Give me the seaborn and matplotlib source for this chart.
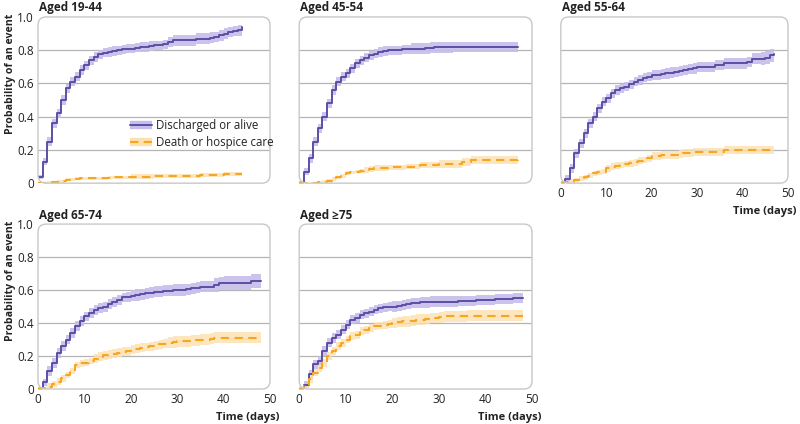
import numpy as np
import pandas as pd
import matplotlib
matplotlib.use("Agg")
import matplotlib.pyplot as plt
import seaborn as sns
from matplotlib.patches import FancyBboxPatch
from matplotlib.lines import Line2D

# ---- data (cumulative probability per day) ----
days_1944 = list(range(45))
disc_1944 = [0.035, 0.13, 0.25, 0.36, 0.42, 0.50, 0.57, 0.61, 0.64, 0.68,
             0.71, 0.74, 0.76, 0.775, 0.785, 0.79, 0.795, 0.80, 0.805, 0.81,
             0.81, 0.815, 0.82, 0.82, 0.825, 0.83, 0.83, 0.835, 0.85, 0.86,
             0.86, 0.86, 0.86, 0.86, 0.87, 0.87, 0.87, 0.875, 0.88, 0.89,
             0.90, 0.91, 0.915, 0.92, 0.94]
disc_ci_1944 = [0.012, 0.022] + [0.028] * 26 + [0.032] * 17
death_1944 = [0, 0, 0.003, 0.005, 0.008, 0.012, 0.02, 0.025, 0.028, 0.03,
              0.03, 0.03, 0.03, 0.03, 0.03, 0.032, 0.035, 0.035, 0.035, 0.035,
              0.04, 0.04, 0.04, 0.04, 0.04, 0.042, 0.042, 0.042, 0.042, 0.042,
              0.045, 0.045, 0.045, 0.045, 0.045, 0.048, 0.048, 0.048, 0.048, 0.048,
              0.055, 0.055, 0.055, 0.055, 0.055]
death_ci_1944 = [0.0, 0.0] + [0.009] * 18 + [0.013] * 25

days_4554 = list(range(48))
disc_4554 = [0.0, 0.07, 0.15, 0.25, 0.33, 0.40, 0.48, 0.56, 0.61, 0.64,
             0.66, 0.69, 0.72, 0.74, 0.755, 0.77, 0.78, 0.79, 0.795, 0.80,
             0.80, 0.80, 0.805, 0.805, 0.81, 0.81, 0.81, 0.812, 0.815, 0.818,
             0.818, 0.818, 0.818, 0.82, 0.82, 0.82, 0.82, 0.82, 0.82, 0.82,
             0.82, 0.82, 0.82, 0.82, 0.82, 0.82, 0.82, 0.82]
disc_ci_4554 = [0.012, 0.022] + [0.028] * 22 + [0.032] * 24
death_4554 = [0, 0, 0, 0, 0.005, 0.01, 0.015, 0.025, 0.035, 0.045,
              0.06, 0.065, 0.07, 0.075, 0.08, 0.085, 0.09, 0.09, 0.09, 0.095,
              0.095, 0.095, 0.095, 0.10, 0.10, 0.10, 0.11, 0.11, 0.11, 0.11,
              0.115, 0.115, 0.115, 0.115, 0.115, 0.125, 0.125, 0.14, 0.14, 0.14,
              0.14, 0.14, 0.14, 0.14, 0.14, 0.14, 0.14, 0.17]
death_ci_4554 = [0.0] * 4 + [0.011] * 10 + [0.017] * 16 + [0.024] * 18

days_5564 = list(range(48))
disc_5564 = [0.0, 0.026, 0.09, 0.18, 0.24, 0.30, 0.36, 0.40, 0.45, 0.49,
             0.51, 0.54, 0.56, 0.57, 0.58, 0.595, 0.61, 0.62, 0.635, 0.64,
             0.65, 0.65, 0.655, 0.66, 0.665, 0.67, 0.675, 0.68, 0.685, 0.69,
             0.70, 0.70, 0.70, 0.70, 0.71, 0.71, 0.72, 0.72, 0.72, 0.72,
             0.72, 0.73, 0.75, 0.75, 0.75, 0.755, 0.77, 0.78]
disc_ci_5564 = [0.012, 0.022] + [0.028] * 18 + [0.031] * 24 + [0.038] * 4
death_5564 = [0.0, 0.005, 0.01, 0.02, 0.03, 0.035, 0.045, 0.06, 0.065, 0.07,
              0.09, 0.10, 0.105, 0.11, 0.115, 0.12, 0.125, 0.135, 0.14, 0.15,
              0.165, 0.165, 0.17, 0.17, 0.17, 0.17, 0.175, 0.18, 0.18, 0.185,
              0.19, 0.19, 0.19, 0.19, 0.19, 0.19, 0.20, 0.20, 0.20, 0.20,
              0.20, 0.20, 0.20, 0.20, 0.20, 0.20, 0.20, 0.20]
death_ci_5564 = [0.0, 0.006] + [0.014] * 8 + [0.02] * 10 + [0.024] * 28

days_6574 = list(range(49))
disc_6574 = [0.0, 0.04, 0.11, 0.16, 0.22, 0.26, 0.30, 0.34, 0.38, 0.41,
             0.44, 0.46, 0.48, 0.49, 0.50, 0.515, 0.53, 0.54, 0.555, 0.56,
             0.565, 0.57, 0.575, 0.58, 0.585, 0.59, 0.59, 0.595, 0.595, 0.60,
             0.60, 0.60, 0.605, 0.61, 0.615, 0.62, 0.62, 0.62, 0.63, 0.64,
             0.645, 0.645, 0.645, 0.645, 0.645, 0.645, 0.655, 0.655, 0.655]
disc_ci_6574 = [0.012, 0.022] + [0.03] * 18 + [0.034] * 18 + [0.042] * 11
death_6574 = [0.0, 0.005, 0.015, 0.03, 0.045, 0.065, 0.085, 0.11, 0.145, 0.155,
              0.16, 0.17, 0.185, 0.195, 0.205, 0.21, 0.215, 0.22, 0.225, 0.23,
              0.24, 0.245, 0.25, 0.255, 0.26, 0.265, 0.27, 0.275, 0.28, 0.285,
              0.29, 0.29, 0.29, 0.295, 0.295, 0.30, 0.30, 0.305, 0.31, 0.31,
              0.31, 0.31, 0.31, 0.31, 0.31, 0.31, 0.31, 0.31, 0.31]
death_ci_6574 = [0.0, 0.006] + [0.02] * 10 + [0.027] * 16 + [0.034] * 21

days_75 = list(range(49))
disc_75 = [0.0, 0.026, 0.09, 0.15, 0.17, 0.23, 0.28, 0.31, 0.33, 0.36,
           0.39, 0.42, 0.43, 0.45, 0.46, 0.47, 0.48, 0.49, 0.495, 0.50,
           0.50, 0.505, 0.51, 0.515, 0.52, 0.52, 0.525, 0.525, 0.53, 0.53,
           0.53, 0.53, 0.53, 0.53, 0.535, 0.535, 0.535, 0.535, 0.54, 0.54,
           0.54, 0.54, 0.545, 0.545, 0.545, 0.545, 0.55, 0.55, 0.55]
disc_ci_75 = [0.012, 0.022] + [0.028] * 18 + [0.031] * 29
death_75 = [0.0, 0.02, 0.06, 0.10, 0.13, 0.16, 0.20, 0.23, 0.26, 0.28,
            0.30, 0.32, 0.33, 0.35, 0.36, 0.37, 0.38, 0.385, 0.39, 0.395,
            0.40, 0.405, 0.41, 0.41, 0.415, 0.42, 0.42, 0.425, 0.43, 0.43,
            0.435, 0.44, 0.44, 0.44, 0.44, 0.44, 0.445, 0.445, 0.445, 0.445,
            0.445, 0.445, 0.445, 0.445, 0.445, 0.445, 0.445, 0.445, 0.445]
death_ci_75 = [0.0, 0.012] + [0.024] * 18 + [0.032] * 29

titles = ["Aged 19-44", "Aged 45-54", "Aged 55-64", "Aged 65-74", "Aged \u226575"]
series_labels = ["Discharged or alive", "Death or hospice care"]
x_ticks = [0, 10, 20, 30, 40, 50]
y_ticks = [0, 0.2, 0.4, 0.6, 0.8, 1.0]
y_tick_labels = ["0", "0.2", "0.4", "0.6", "0.8", "1.0"]

panels = [
    (days_1944, disc_1944, disc_ci_1944, death_1944, death_ci_1944),
    (days_4554, disc_4554, disc_ci_4554, death_4554, death_ci_4554),
    (days_5564, disc_5564, disc_ci_5564, death_5564, death_ci_5564),
    (days_6574, disc_6574, disc_ci_6574, death_6574, death_ci_6574),
    (days_75, disc_75, disc_ci_75, death_75, death_ci_75),
]

# ---- styling ----
sns.set_style("white")
plt.rcParams["font.family"] = ["Open Sans", "DejaVu Sans"]

PURPLE = "#5b4ea5"
PURPLE_BAND = "#c6bdea"
ORANGE = "#f6a623"
ORANGE_BAND = "#fde0ad"
GRID = "#b4b4b4"
FRAME = "#c8c8c8"
TEXT = "#222222"

fig = plt.figure(figsize=(8, 4.24), dpi=100)

# axes boxes in figure fractions (left, bottom, width, height)
positions = [
    (0.0475, 0.568, 0.290, 0.392),
    (0.374, 0.568, 0.291, 0.392),
    (0.701, 0.568, 0.284, 0.392),
    (0.0475, 0.0825, 0.290, 0.389),
    (0.374, 0.0825, 0.291, 0.389),
]
show_xlabels = [False, False, True, True, True]
show_ylabels = [True, False, False, True, False]

for i, (days, disc, disc_ci, death, death_ci) in enumerate(panels):
    ax = fig.add_axes(positions[i])
    d = np.array(days)
    y1, c1 = np.array(disc), np.array(disc_ci)
    y2, c2 = np.array(death), np.array(death_ci)
    w_px = positions[i][2] * 800
    h_px = positions[i][3] * 424

    for yv in y_ticks[1:-1]:
        ax.axhline(yv, color=GRID, lw=0.9, zorder=0)

    ax.fill_between(d, y1 - c1, y1 + c1, step="post", color=PURPLE_BAND,
                    alpha=0.9, lw=0, zorder=1)
    ax.fill_between(d, np.clip(y2 - c2, 0, None), y2 + c2, step="post",
                    color=ORANGE_BAND, alpha=0.8, lw=0, zorder=1)

    df1 = pd.DataFrame({"day": d, "prob": y1})
    df2 = pd.DataFrame({"day": d, "prob": y2})
    sns.lineplot(data=df1, x="day", y="prob", ax=ax, estimator=None,
                 drawstyle="steps-post", color=PURPLE, lw=1.4, zorder=3)
    sns.lineplot(data=df2, x="day", y="prob", ax=ax, estimator=None,
                 drawstyle="steps-post", color=ORANGE, lw=1.5,
                 linestyle=(0, (4, 2.6)), zorder=3)

    ax.set_xlim(0, 50)
    ax.set_ylim(0, 1)
    for s in ax.spines.values():
        s.set_visible(False)

    # rounded frame
    frame = FancyBboxPatch((0, 0), 1, 1, transform=ax.transAxes,
                           boxstyle="round,pad=0,rounding_size=0.035",
                           mutation_aspect=w_px / h_px, fill=False,
                           edgecolor=FRAME, lw=1.0, clip_on=False, zorder=4)
    ax.add_patch(frame)

    ax.set_xticks(x_ticks)
    ax.set_yticks(y_ticks)
    ax.set_yticklabels(y_tick_labels)
    ax.tick_params(axis="x", direction="in", length=4, width=0.9,
                   color=GRID, pad=3, labelsize=8.5, labelcolor=TEXT,
                   labelbottom=show_xlabels[i])
    ax.tick_params(axis="y", length=0, pad=3, labelsize=8.5, labelcolor=TEXT,
                   labelleft=show_ylabels[i])

    ax.set_title(titles[i], loc="left", fontsize=8.5, fontweight="bold",
                 color=TEXT, pad=4, x=0.005)
    if show_ylabels[i]:
        ax.set_ylabel("Probability of an event", loc="top", fontsize=7.6,
                      fontweight="bold", color=TEXT)
        ax.yaxis.set_label_coords(-22 / w_px, 1 + 3 / h_px)
    else:
        ax.set_ylabel("")
    if show_xlabels[i]:
        ax.set_xlabel("Time (days)", loc="right", fontsize=8,
                      fontweight="bold", color=TEXT)
        ax.xaxis.set_label_coords(1 + 9 / w_px, -23 / h_px)
    else:
        ax.set_xlabel("")

    if i == 0:
        handles = [
            (Line2D([], [], color=PURPLE_BAND, lw=6, solid_capstyle="butt"),
             Line2D([], [], color=PURPLE, lw=1.4)),
            (Line2D([], [], color=ORANGE_BAND, lw=6, solid_capstyle="butt"),
             Line2D([], [], color=ORANGE, lw=1.5, linestyle=(0, (4, 2.6)))),
        ]
        ax.legend(handles, series_labels, loc="center left",
                  bbox_to_anchor=(0.395, 0.295), frameon=False, fontsize=8.3,
                  handlelength=1.9, handletextpad=0.35, labelspacing=0.35,
                  borderpad=0, borderaxespad=0, labelcolor=TEXT)

fig.savefig("out.png", dpi=100)
